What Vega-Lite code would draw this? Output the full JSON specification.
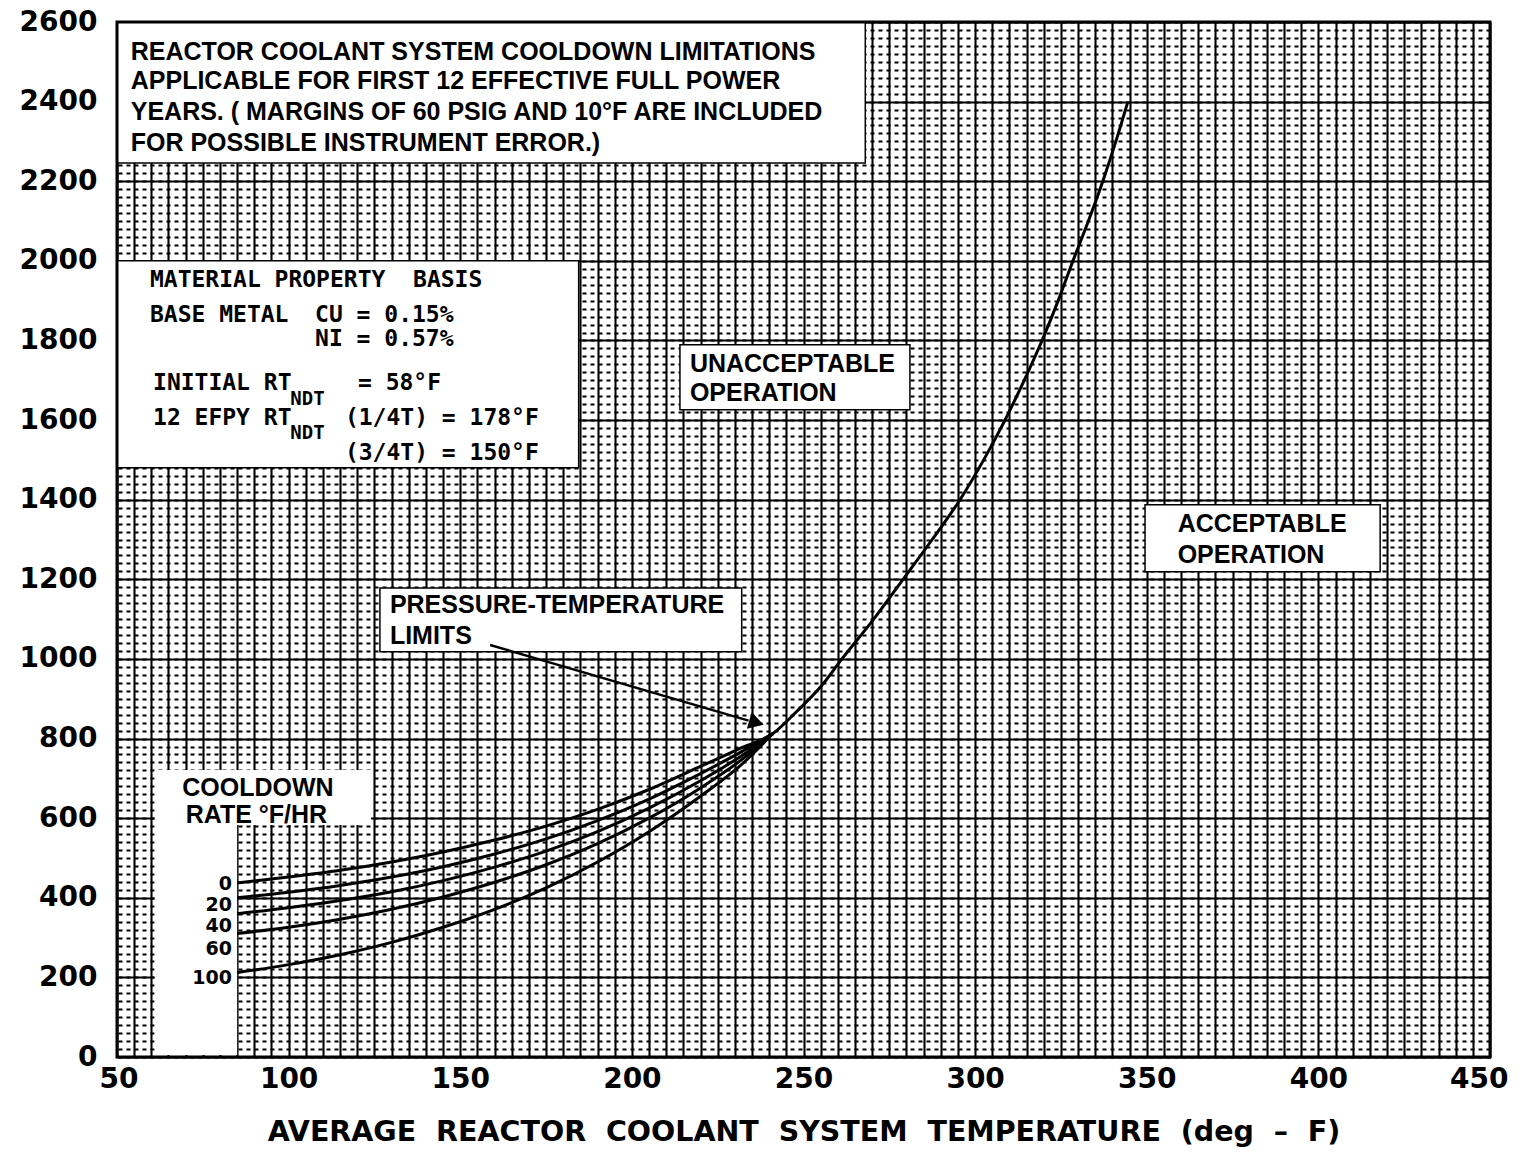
{
  "$schema": "https://vega.github.io/schema/vega-lite/v6.json",
  "width": 1373,
  "height": 1035,
  "autosize": {"type": "none"},
  "padding": {"left": 117, "top": 22, "right": 33, "bottom": 101},
  "background": "white",
  "config": {"view": {"stroke": null}},
  "datasets": {
    "curves": [
      {"rate": "0", "t": 85, "p": 437}, {"rate": "0", "t": 100, "p": 452}, {"rate": "0", "t": 115, "p": 469}, {"rate": "0", "t": 130, "p": 490},
      {"rate": "0", "t": 145, "p": 515}, {"rate": "0", "t": 160, "p": 545}, {"rate": "0", "t": 175, "p": 580}, {"rate": "0", "t": 190, "p": 622},
      {"rate": "0", "t": 205, "p": 672}, {"rate": "0", "t": 220, "p": 730}, {"rate": "0", "t": 232, "p": 777}, {"rate": "0", "t": 241, "p": 812},
      {"rate": "0", "t": 248, "p": 868}, {"rate": "0", "t": 255, "p": 930}, {"rate": "0", "t": 261.2, "p": 1000}, {"rate": "0", "t": 270, "p": 1095},
      {"rate": "0", "t": 279, "p": 1200}, {"rate": "0", "t": 287.5, "p": 1300}, {"rate": "0", "t": 295.6, "p": 1400}, {"rate": "0", "t": 302.5, "p": 1500},
      {"rate": "0", "t": 308.7, "p": 1600}, {"rate": "0", "t": 314.3, "p": 1700}, {"rate": "0", "t": 319.5, "p": 1800}, {"rate": "0", "t": 324.2, "p": 1900},
      {"rate": "0", "t": 328.5, "p": 2000}, {"rate": "0", "t": 333, "p": 2100}, {"rate": "0", "t": 337.2, "p": 2200}, {"rate": "0", "t": 341, "p": 2300},
      {"rate": "0", "t": 344.5, "p": 2400},
      {"rate": "20", "t": 85, "p": 400}, {"rate": "20", "t": 100, "p": 414}, {"rate": "20", "t": 115, "p": 431}, {"rate": "20", "t": 130, "p": 452},
      {"rate": "20", "t": 145, "p": 478}, {"rate": "20", "t": 160, "p": 510}, {"rate": "20", "t": 175, "p": 548}, {"rate": "20", "t": 190, "p": 594},
      {"rate": "20", "t": 205, "p": 648}, {"rate": "20", "t": 220, "p": 712}, {"rate": "20", "t": 232, "p": 767}, {"rate": "20", "t": 241, "p": 812},
      {"rate": "40", "t": 85, "p": 360}, {"rate": "40", "t": 100, "p": 375}, {"rate": "40", "t": 115, "p": 393}, {"rate": "40", "t": 130, "p": 415},
      {"rate": "40", "t": 145, "p": 443}, {"rate": "40", "t": 160, "p": 477}, {"rate": "40", "t": 175, "p": 517}, {"rate": "40", "t": 190, "p": 566},
      {"rate": "40", "t": 205, "p": 625}, {"rate": "40", "t": 220, "p": 694}, {"rate": "40", "t": 232, "p": 757}, {"rate": "40", "t": 241, "p": 812},
      {"rate": "60", "t": 85, "p": 310}, {"rate": "60", "t": 100, "p": 326}, {"rate": "60", "t": 115, "p": 346}, {"rate": "60", "t": 130, "p": 371},
      {"rate": "60", "t": 145, "p": 402}, {"rate": "60", "t": 160, "p": 439}, {"rate": "60", "t": 175, "p": 483}, {"rate": "60", "t": 190, "p": 536},
      {"rate": "60", "t": 205, "p": 600}, {"rate": "60", "t": 220, "p": 676}, {"rate": "60", "t": 232, "p": 747}, {"rate": "60", "t": 241, "p": 812},
      {"rate": "100", "t": 85, "p": 212}, {"rate": "100", "t": 100, "p": 232}, {"rate": "100", "t": 115, "p": 257}, {"rate": "100", "t": 130, "p": 288},
      {"rate": "100", "t": 145, "p": 326}, {"rate": "100", "t": 160, "p": 371}, {"rate": "100", "t": 175, "p": 425}, {"rate": "100", "t": 190, "p": 490},
      {"rate": "100", "t": 205, "p": 566}, {"rate": "100", "t": 220, "p": 655}, {"rate": "100", "t": 232, "p": 735}, {"rate": "100", "t": 241, "p": 812}
    ],
    "boxes": [
      {"name": "title", "t1": 50, "t2": 268, "p1": 2246, "p2": 2600},
      {"name": "material", "t1": 50, "t2": 184.5, "p1": 1480, "p2": 2000},
      {"name": "unacceptable", "t1": 214, "t2": 281, "p1": 1626, "p2": 1789},
      {"name": "acceptable", "t1": 349.5, "t2": 418, "p1": 1219, "p2": 1387},
      {"name": "limits", "t1": 126.6, "t2": 232, "p1": 1018, "p2": 1178}
    ],
    "cooldownBox": [
      {"t1": 61, "t2": 124, "p1": 583, "p2": 721},
      {"t1": 61, "t2": 85, "p1": 5, "p2": 583}
    ],
    "boldText": [
      {"t": 54, "p": 2525, "s": "REACTOR COOLANT SYSTEM COOLDOWN LIMITATIONS"},
      {"t": 54, "p": 2452, "s": "APPLICABLE FOR FIRST 12 EFFECTIVE FULL POWER"},
      {"t": 54, "p": 2374, "s": "YEARS. ( MARGINS OF 60 PSIG AND 10°F ARE INCLUDED"},
      {"t": 54, "p": 2296, "s": "FOR POSSIBLE INSTRUMENT ERROR.)"},
      {"t": 216.9, "p": 1741, "s": "UNACCEPTABLE"},
      {"t": 216.9, "p": 1668, "s": "OPERATION"},
      {"t": 359, "p": 1339, "s": "ACCEPTABLE"},
      {"t": 359, "p": 1261, "s": "OPERATION"},
      {"t": 129.5, "p": 1136, "s": "PRESSURE-TEMPERATURE"},
      {"t": 129.5, "p": 1058, "s": "LIMITS"},
      {"t": 69, "p": 676, "s": "COOLDOWN"},
      {"t": 70, "p": 608, "s": "RATE °F/HR"}
    ],
    "rateLabels": [
      {"t": 83.5, "p": 435, "s": "0"},
      {"t": 83.5, "p": 382, "s": "20"},
      {"t": 83.5, "p": 328, "s": "40"},
      {"t": 83.5, "p": 271, "s": "60"},
      {"t": 83.5, "p": 198, "s": "100"}
    ],
    "materialText": [
      {"t": 59.6, "p": 1952, "s": "MATERIAL PROPERTY\u00a0 BASIS"},
      {"t": 59.6, "p": 1864, "s": "BASE METAL"},
      {"t": 107.7, "p": 1864, "s": "CU = 0.15%"},
      {"t": 107.7, "p": 1804, "s": "NI = 0.57%"},
      {"t": 60.5, "p": 1693, "s": "INITIAL RT"},
      {"t": 120.2, "p": 1693, "s": "= 58°F"},
      {"t": 60.5, "p": 1605, "s": "12 EFPY RT"},
      {"t": 116.4, "p": 1605, "s": "(1/4T) = 178°F"},
      {"t": 116.4, "p": 1518, "s": "(3/4T) = 150°F"}
    ],
    "subscripts": [
      {"t": 100.5, "p": 1653, "s": "NDT"},
      {"t": 100.5, "p": 1568, "s": "NDT"}
    ],
    "arrow": [
      {"t": 158.7, "p": 1035, "t2": 234, "p2": 845}
    ],
    "arrowHead": [
      {"t": 236.3, "p": 840}
    ]
  },
  "resolve": {"axis": {"x": "independent", "y": "independent"}},
  "layer": [
    {
      "data": {"name": "curves"},
      "mark": {"type": "point", "opacity": 0},
      "encoding": {
        "x": {"field": "t", "type": "quantitative", "scale": {"domain": [50, 450], "nice": false, "zero": false},
          "axis": {"orient": "top", "tickCount": 80, "labels": false, "ticks": false, "domain": false, "grid": true, "gridColor": "black", "gridWidth": 2.1, "gridOpacity": 1, "title": null}},
        "y": {"field": "p", "type": "quantitative", "scale": {"domain": [0, 2600], "nice": false, "zero": false},
          "axis": {"orient": "right", "tickCount": 130, "labels": false, "ticks": false, "domain": false, "grid": true, "gridColor": "black", "gridWidth": 2, "gridDash": [4, 4], "gridOpacity": 1, "title": null}}
      }
    },
    {
      "data": {"name": "boxes"},
      "mark": {"type": "rect", "fill": "white", "stroke": "black", "strokeWidth": 1.5},
      "encoding": {
        "x": {"field": "t1", "type": "quantitative", "axis": null},
        "x2": {"field": "t2"},
        "y": {"field": "p1", "type": "quantitative", "axis": null},
        "y2": {"field": "p2"}
      }
    },
    {
      "data": {"name": "cooldownBox"},
      "mark": {"type": "rect", "fill": "white"},
      "encoding": {
        "x": {"field": "t1", "type": "quantitative", "axis": null},
        "x2": {"field": "t2"},
        "y": {"field": "p1", "type": "quantitative", "axis": null},
        "y2": {"field": "p2"}
      }
    },
    {
      "data": {"name": "curves"},
      "mark": {"type": "line", "color": "black", "strokeWidth": 3, "interpolate": "monotone"},
      "encoding": {
        "x": {"field": "t", "type": "quantitative",
          "axis": {"orient": "bottom", "values": [50, 100, 150, 200, 250, 300, 350, 400, 450], "format": "d", "grid": false, "ticks": false, "domain": false,
            "labelFont": "DejaVu Sans", "labelFontWeight": "bold", "labelFontSize": 28, "labelColor": "black", "labelPadding": 8,
            "labelFlush": true, "labelFlushOffset": 18,
            "title": "AVERAGE\u00a0 REACTOR\u00a0 COOLANT\u00a0 SYSTEM\u00a0 TEMPERATURE\u00a0 (deg\u00a0 –\u00a0 F)",
            "titleFont": "DejaVu Sans", "titleFontSize": 28.5, "titleFontWeight": "bold", "titleColor": "black", "titlePadding": 24}},
        "y": {"field": "p", "type": "quantitative",
          "axis": {"orient": "left", "values": [0, 200, 400, 600, 800, 1000, 1200, 1400, 1600, 1800, 2000, 2200, 2400, 2600], "format": "d", "grid": true, "gridColor": "black", "gridWidth": 2.2, "gridOpacity": 1,
            "ticks": false, "domain": false, "labelFont": "DejaVu Sans", "labelFontWeight": "bold", "labelFontSize": 28, "labelColor": "black", "labelPadding": 20, "title": null}},
        "detail": {"field": "rate", "type": "nominal"}
      }
    },
    {
      "data": {"name": "arrow"},
      "mark": {"type": "rule", "color": "black", "strokeWidth": 2.5},
      "encoding": {
        "x": {"field": "t", "type": "quantitative", "axis": null},
        "y": {"field": "p", "type": "quantitative", "axis": null},
        "x2": {"field": "t2"},
        "y2": {"field": "p2"}
      }
    },
    {
      "data": {"name": "arrowHead"},
      "mark": {"type": "point", "shape": "triangle-right", "filled": true, "color": "black", "opacity": 1, "size": 300, "angle": 16.2},
      "encoding": {
        "x": {"field": "t", "type": "quantitative", "axis": null},
        "y": {"field": "p", "type": "quantitative", "axis": null}
      }
    },
    {
      "data": {"name": "boldText"},
      "mark": {"type": "text", "font": "Liberation Sans", "fontWeight": "bold", "fontSize": 25, "align": "left", "baseline": "middle", "color": "black"},
      "encoding": {
        "x": {"field": "t", "type": "quantitative", "axis": null},
        "y": {"field": "p", "type": "quantitative", "axis": null},
        "text": {"field": "s"}
      }
    },
    {
      "data": {"name": "rateLabels"},
      "mark": {"type": "text", "font": "DejaVu Sans", "fontWeight": "bold", "fontSize": 19, "align": "right", "baseline": "middle", "color": "black"},
      "encoding": {
        "x": {"field": "t", "type": "quantitative", "axis": null},
        "y": {"field": "p", "type": "quantitative", "axis": null},
        "text": {"field": "s"}
      }
    },
    {
      "data": {"name": "materialText"},
      "mark": {"type": "text", "font": "DejaVu Sans Mono", "fontWeight": "bold", "fontSize": 23, "align": "left", "baseline": "middle", "color": "black"},
      "encoding": {
        "x": {"field": "t", "type": "quantitative", "axis": null},
        "y": {"field": "p", "type": "quantitative", "axis": null},
        "text": {"field": "s"}
      }
    },
    {
      "data": {"name": "subscripts"},
      "mark": {"type": "text", "font": "DejaVu Sans Mono", "fontWeight": "bold", "fontSize": 19, "align": "left", "baseline": "middle", "color": "black"},
      "encoding": {
        "x": {"field": "t", "type": "quantitative", "axis": null},
        "y": {"field": "p", "type": "quantitative", "axis": null},
        "text": {"field": "s"}
      }
    },
    {
      "data": {"values": [{}]},
      "mark": {"type": "rect", "filled": false, "stroke": "black", "strokeWidth": 3},
      "encoding": {
        "x": {"datum": 50, "type": "quantitative", "axis": null},
        "x2": {"datum": 450},
        "y": {"datum": 0, "type": "quantitative", "axis": null},
        "y2": {"datum": 2600}
      }
    }
  ]
}
